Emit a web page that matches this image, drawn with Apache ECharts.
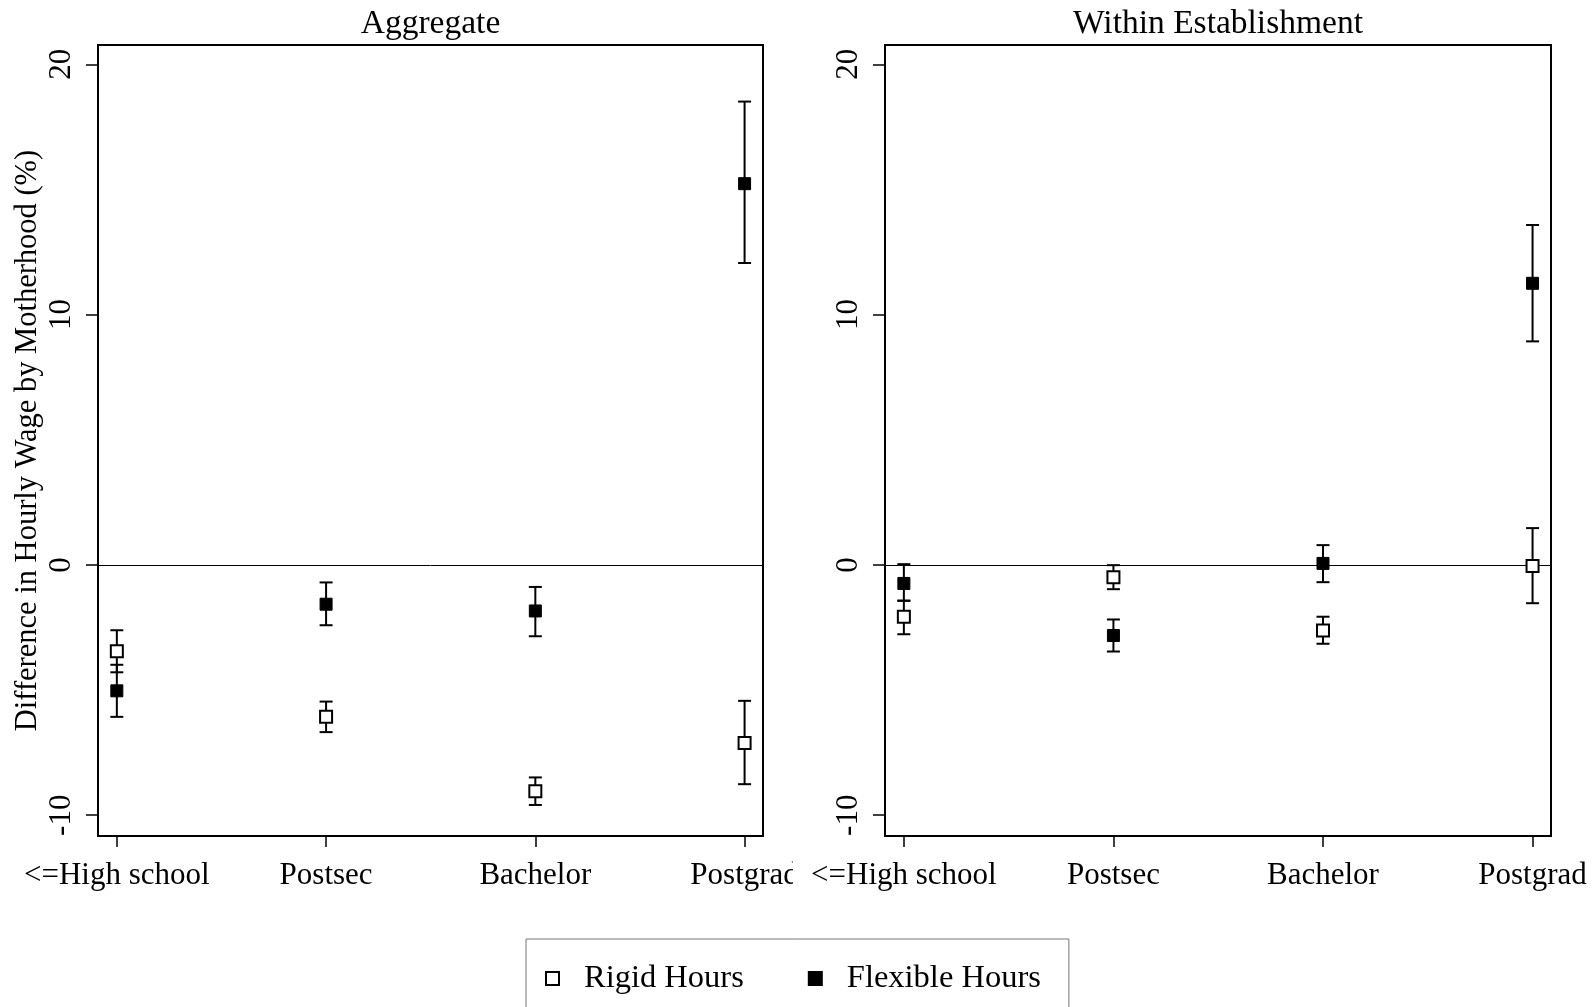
<!DOCTYPE html>
<html>
<head>
<meta charset="utf-8">
<script src="https://cdn.jsdelivr.net/npm/echarts@6/dist/echarts.min.js"></script>
<style>
html,body{margin:0;padding:0;background:#fff;}
#chart{width:1596px;height:1007px;}
</style>
</head>
<body>
<div id="chart"></div>
<script>
// ---- data ----
const categories = ['<=High school', 'Postsec', 'Bachelor', 'Postgrad'];
const panelTitles = ['Aggregate', 'Within Establishment'];
const yTicks = [-10, 0, 10, 20];
const seriesNames = ['Rigid Hours', 'Flexible Hours'];

// Aggregate panel
const aggRigid   = [-3.45, -6.07, -9.04, -7.11];
const aggRigidLo = [-4.29, -6.68, -9.59, -8.76];
const aggRigidHi = [-2.61, -5.46, -8.49, -5.43];
const aggFlex    = [-5.03, -1.57, -1.84, 15.23];
const aggFlexLo  = [-6.07, -2.41, -2.85, 12.06];
const aggFlexHi  = [-3.99, -0.70, -0.88, 18.51];

// Within establishment panel
const winRigid   = [-2.07, -0.49, -2.62, -0.04];
const winRigidLo = [-2.77, -0.97, -3.15, -1.53];
const winRigidHi = [-1.43, -0.01, -2.07, 1.47];
const winFlex    = [-0.74, -2.82, 0.06, 11.25];
const winFlexLo  = [-1.43, -3.46, -0.69, 8.93];
const winFlexHi  = [0.03, -2.18, 0.79, 13.58];

// ---- chart ----
const FONT = "'Liberation Serif', 'Times New Roman', serif";
const chart = echarts.init(document.getElementById('chart'), null, {renderer: 'canvas'});

const grids = [
  {left: 98, top: 45, width: 665, height: 791},
  {left: 885, top: 45, width: 666, height: 791}
];

function pts(vals) { return vals.map((v, i) => [i, v]); }
function bars(lo, hi) { return lo.map((v, i) => [i, v, hi[i]]); }

function errorSeries(gi, lo, hi, withZero) {
  const s = {
    type: 'custom',
    xAxisIndex: gi, yAxisIndex: gi,
    data: bars(lo, hi),
    z: 2,
    silent: true,
    renderItem: function (params, api) {
      const x = api.value(0);
      const pLo = api.coord([x, api.value(1)]);
      const pHi = api.coord([x, api.value(2)]);
      const hw = 6.5;
      const st = {stroke: '#000', lineWidth: 2};
      return {
        type: 'group',
        children: [
          {type: 'line', shape: {x1: pLo[0], y1: pLo[1], x2: pHi[0], y2: pHi[1]}, style: st},
          {type: 'line', shape: {x1: pLo[0] - hw, y1: pLo[1], x2: pLo[0] + hw, y2: pLo[1]}, style: st},
          {type: 'line', shape: {x1: pHi[0] - hw, y1: pHi[1], x2: pHi[0] + hw, y2: pHi[1]}, style: st}
        ]
      };
    }
  };
  if (withZero) {
    s.markLine = {
      silent: true,
      symbol: 'none',
      label: {show: false},
      lineStyle: {color: '#000', width: 1, type: 'solid'},
      data: [{yAxis: 0}]
    };
  }
  return s;
}

function pointSeries(gi, name, vals, hollow) {
  return {
    type: 'scatter',
    name: name,
    xAxisIndex: gi, yAxisIndex: gi,
    data: pts(vals),
    symbol: 'rect',
    symbolSize: 12,
    z: 5,
    itemStyle: hollow
      ? {color: '#fff', borderColor: '#000', borderWidth: 2, opacity: 1}
      : {color: '#000', borderColor: '#000', borderWidth: 1, opacity: 1}
  };
}

function xAxis(gi) {
  return {
    type: 'value', gridIndex: gi,
    min: -0.09, max: 3.088,
    axisLine: {show: true, onZero: false, lineStyle: {color: '#000', width: 2}},
    axisTick: {show: true, customValues: [0, 1, 2, 3], length: 11, lineStyle: {color: '#000', width: 1.5}},
    axisLabel: {
      show: true, customValues: [0, 1, 2, 3], margin: 24,
      formatter: v => categories[Math.round(v)],
      fontFamily: FONT, fontSize: 31, color: '#000'
    },
    splitLine: {show: false}
  };
}

function yAxis(gi, withName) {
  const a = {
    type: 'value', gridIndex: gi,
    min: -10.83, max: 20.77,
    axisLine: {show: true, onZero: false, lineStyle: {color: '#000', width: 2}},
    axisTick: {show: true, customValues: yTicks, length: 12, lineStyle: {color: '#000', width: 1.5}},
    axisLabel: {
      show: true, customValues: yTicks, rotate: 90, margin: 21,
      fontFamily: FONT, fontSize: 31, color: '#000'
    },
    splitLine: {show: false}
  };
  if (withName) {
    a.name = 'Difference in Hourly Wage by Motherhood (%)';
    a.nameLocation = 'middle';
    a.nameGap = 55;
    a.nameTextStyle = {fontFamily: FONT, fontSize: 30.5, color: '#000'};
  }
  return a;
}

const option = {
  backgroundColor: '#fff',
  animation: false,
  title: panelTitles.map((t, i) => ({
    text: t,
    left: grids[i].left + grids[i].width / 2,
    top: 7,
    textAlign: 'center',
    padding: 0,
    textStyle: {fontFamily: FONT, fontSize: 33.5, fontWeight: 'normal', color: '#000'}
  })),
  grid: grids.map(g => Object.assign({show: true, borderColor: '#000', borderWidth: 2, backgroundColor: 'transparent', containLabel: false}, g)),
  xAxis: [xAxis(0), xAxis(1)],
  yAxis: [yAxis(0, true), yAxis(1, false)],
  legend: {
    data: seriesNames,
    left: 526, top: 939,
    orient: 'horizontal',
    itemWidth: 13, itemHeight: 13,
    itemGap: 64,
    padding: [23, 28, 60, 19],
    borderColor: '#777', borderWidth: 1,
    backgroundColor: '#fff',
    selectedMode: false,
    textStyle: {fontFamily: FONT, fontSize: 32.5, color: '#000', padding: [0, 0, 0, 20]}
  },
  graphic: [
    // the right panel's plot region covers the end of the left panel's last tick label
    {type: 'rect', left: 793, top: 852, shape: {width: 8, height: 45}, style: {fill: '#fff'}, z: 100, silent: true}
  ],
  series: [
    errorSeries(0, aggRigidLo, aggRigidHi, true),
    errorSeries(0, aggFlexLo, aggFlexHi, false),
    pointSeries(0, seriesNames[0], aggRigid, true),
    pointSeries(0, seriesNames[1], aggFlex, false),
    errorSeries(1, winRigidLo, winRigidHi, true),
    errorSeries(1, winFlexLo, winFlexHi, false),
    pointSeries(1, seriesNames[0], winRigid, true),
    pointSeries(1, seriesNames[1], winFlex, false)
  ]
};
chart.setOption(option);
</script>
</body>
</html>
